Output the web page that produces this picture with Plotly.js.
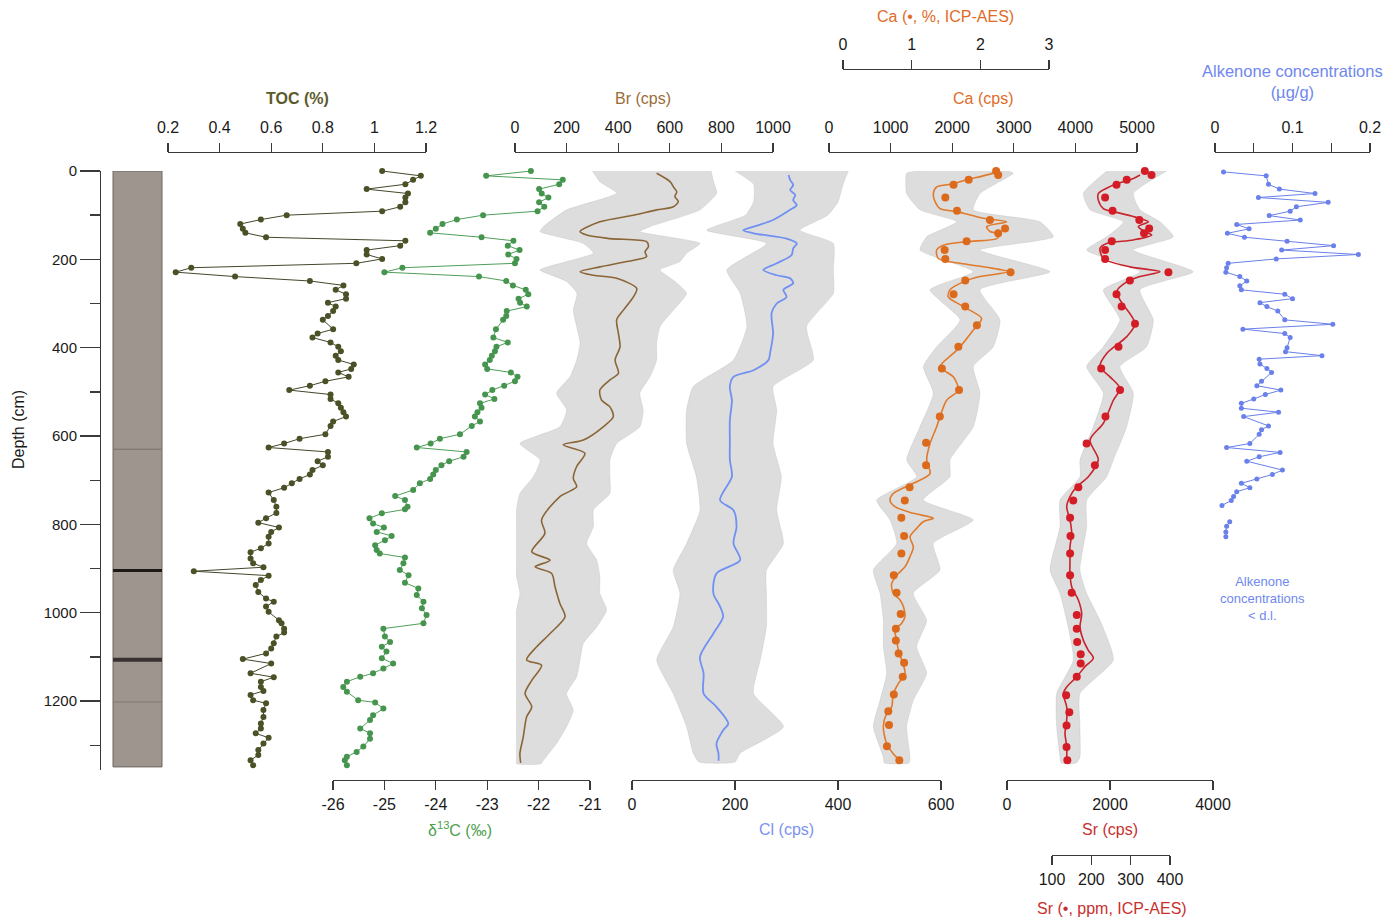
<!DOCTYPE html>
<html><head><meta charset="utf-8">
<script src="https://cdn.plot.ly/plotly-3.0.1.min.js"></script>
<style>html,body{margin:0;padding:0;background:#fff;}#chart{width:1399px;height:921px;}</style>
</head><body><div id="chart"></div>
<script>
// ---------------- DATA ----------------
const tocDepth = [0,11,20,30,41,51,60,71,81,91,
 100,110,120,131,140,150,158,169,179,189,
 199,209,219,229,239,249,259,269,279,289,
 298,307,317,328,337,358,368,377,388,398,
 408,418,428,438,448,456,466,476,486,496,
 506,516,526,536,546,556,567,577,596,606,
 617,626,636,647,657,666,677,687,697,707,
 717,728,745,760,774,786,796,807,817,828,
 843,854,863,877,888,897,906,916,926,937,
 953,968,975,986,998,1017,1024,1036,1045,1054,
 1069,1081,1092,1105,1115,1137,1146,1156,1168,1177,
 1186,1198,1205,1220,1236,1251,1262,1273,1283,1296,
 1311,1322,1334,1345];
const tocValue = [1.03,1.18,1.15,1.12,0.97,1.13,1.12,1.12,1.10,1.03,
 0.66,0.56,0.48,0.49,0.50,0.58,1.12,1.10,0.97,0.97,
 1.03,0.93,0.29,0.23,0.46,0.75,0.88,0.85,0.89,0.89,
 0.82,0.85,0.84,0.82,0.80,0.84,0.78,0.76,0.83,0.86,
 0.87,0.85,0.86,0.92,0.91,0.86,0.90,0.81,0.75,0.67,
 0.83,0.83,0.86,0.87,0.88,0.89,0.84,0.83,0.81,0.71,
 0.65,0.59,0.82,0.82,0.78,0.80,0.76,0.75,0.71,0.68,
 0.65,0.59,0.61,0.62,0.62,0.58,0.55,0.63,0.60,0.59,
 0.59,0.56,0.52,0.52,0.53,0.57,0.30,0.59,0.56,0.54,
 0.55,0.58,0.61,0.58,0.59,0.63,0.64,0.65,0.65,0.62,
 0.61,0.60,0.58,0.49,0.60,0.52,0.61,0.56,0.56,0.57,
 0.52,0.53,0.58,0.57,0.57,0.56,0.56,0.54,0.59,0.57,
 0.55,0.55,0.52,0.53];

const d13cDepth = [0,11,20,30,41,51,60,71,81,91,
 100,110,120,131,140,150,158,169,179,189,
 199,209,219,229,239,249,259,269,279,289,
 298,307,317,328,337,358,377,388,398,408,
 418,428,438,448,456,466,476,486,496,506,
 516,526,536,546,556,567,577,596,606,617,
 626,636,647,657,666,677,687,697,707,722,
 736,745,760,766,775,786,798,807,817,826,
 836,847,858,866,875,888,903,915,932,945,
 960,975,990,1005,1024,1036,1054,1066,1077,1088,
 1103,1115,1126,1137,1145,1156,1168,1179,1198,1203,
 1217,1232,1243,1262,1273,1285,1303,1315,1326,1334,
 1345];
const d13cValue = [-22.15,-23.02,-21.53,-21.60,-21.99,-21.94,-21.81,-21.99,-21.89,-22.02,
 -23.08,-23.59,-23.87,-24.00,-24.11,-23.11,-22.49,-22.60,-22.37,-22.59,
 -22.43,-22.46,-24.65,-25.00,-23.16,-22.63,-22.50,-22.25,-22.20,-22.39,
 -22.36,-22.23,-22.62,-22.63,-22.69,-22.83,-22.88,-22.60,-22.82,-22.85,
 -22.91,-22.95,-23.04,-23.00,-22.54,-22.41,-22.46,-22.67,-22.90,-23.04,
 -22.86,-23.14,-23.11,-23.19,-23.24,-23.14,-23.30,-23.53,-23.92,-24.10,
 -24.37,-23.40,-23.46,-23.74,-23.89,-24.00,-24.05,-24.11,-24.31,-24.44,
 -24.79,-24.60,-24.55,-24.60,-25.05,-25.29,-25.22,-25.01,-25.15,-24.86,
 -24.99,-25.18,-25.15,-25.09,-24.60,-24.63,-24.70,-24.53,-24.60,-24.34,
 -24.37,-24.24,-24.27,-24.18,-24.24,-25.02,-24.99,-24.89,-25.05,-24.96,
 -25.05,-24.83,-25.02,-25.22,-25.47,-25.73,-25.80,-25.73,-25.51,-25.18,
 -25.02,-25.22,-25.28,-25.47,-25.28,-25.28,-25.41,-25.54,-25.73,-25.77,
 -25.73];

// Br (cps): smoothed curve and raw-data envelope
const brDepth = [5,24,36,47,58,69,81,88,100,115,137,145,153,160,171,183,194,205,217,228,
 236,243,266,285,315,337,368,398,428,458,473,496,519,534,556,579,609,620,639,669,
 696,715,737,790,820,862,881,896,911,941,979,1009,1047,1077,1107,1119,1153,1183,1213,1236,
 1281,1319,1340];
const brValue = [549,601,614,627,620,633,614,549,459,329,252,278,368,510,517,504,510,433,329,252,
 304,394,472,459,420,394,401,407,388,401,368,329,336,368,381,342,265,187,271,239,
 226,239,174,103,116,65,136,78,142,155,174,194,136,84,45,103,65,39,65,45,
 32,19,22];
const brEnvDepth = [0,25,50,88,126,137,164,186,205,224,250,277,315,352,390,428,466,503,541,579,
 617,654,692,730,767,805,843,881,918,956,994,1032,1069,1107,1145,1183,1220,1258,1296,1334,1342];
const brEnvLow = [300,330,394,200,110,97,265,304,200,97,200,240,226,239,252,239,213,161,200,174,
 19,97,71,19,6,6,6,6,6,19,6,6,6,6,6,6,6,6,6,6,6];
const brEnvHigh = [760,770,782,717,523,484,717,665,640,562,620,665,614,562,549,549,523,484,497,484,
 394,368,368,368,304,304,278,317,329,329,355,317,265,252,239,200,226,200,161,110,100];

// Cl (cps)
const clDepth = [9,20,32,43,54,66,77,88,111,126,134,141,153,164,175,190,209,224,236,243,
 254,269,285,300,322,368,413,428,451,466,488,519,564,617,654,692,745,768,805,843,
 881,911,956,986,1009,1047,1100,1137,1183,1213,1251,1266,1296,1319,1335];
const clValue = [304,307,313,307,317,313,320,307,274,236,216,236,300,320,313,310,281,255,281,307,
 313,294,300,281,271,274,268,265,236,197,190,194,190,190,190,194,171,197,203,197,
 210,164,158,171,177,158,132,139,139,164,187,177,164,168,168];
const clEnvDepth = [0,30,70,100,134,164,224,277,352,428,488,541,617,692,768,843,904,956,1032,1107,1183,1258,1318,1338];
const clEnvLow = [200,236,236,220,145,261,184,210,223,197,119,106,106,125,132,106,80,93,80,48,80,106,119,130];
const clEnvHigh = [420,410,400,380,326,391,391,391,339,352,274,281,274,290,281,294,261,261,261,249,236,294,210,200];

// Ca (cps) and Ca (%, ICP-AES)
const caDepth = [2,11,20,29,36,51,69,85,92,107,115,126,137,143,153,160,168,179,198,209,
 218,228,239,251,269,285,307,334,360,398,413,443,466,496,519,556,579,617,654,685,
 707,730,745,760,775,786,794,809,828,851,873,896,915,934,956,971,986,1009,1024,1039,
 1062,1085,1107,1137,1160,1183,1213,1228,1258,1296,1319,1334];
const caValue = [2750,2505,2235,2018,1748,1694,1721,1802,2073,2505,2884,2560,2614,2776,2722,2235,1856,1748,1775,2127,
 2560,2911,2451,2181,1964,1937,2181,2478,2343,2127,2018,1802,2018,2100,1910,1802,1748,1640,1586,1640,
 1369,1044,990,1071,1369,1694,1531,1423,1315,1369,1315,1234,1099,1017,1044,1153,1207,1234,1180,1071,
 1099,1126,1180,1234,1126,1044,1017,936,882,936,1044,1153];
const caEnvDepth = [0,5,51,88,115,149,179,228,269,337,398,443,503,579,654,692,745,790,843,903,956,1017,1077,1137,1198,1258,1326,1340];
const caEnvLow = [1500,1261,1261,1477,2073,1586,1477,2343,1640,2127,1748,1532,1694,1477,1261,1423,774,990,1099,720,828,882,882,936,828,720,882,900];
const caEnvHigh = [2900,2992,2451,2343,3425,3642,2451,3588,2451,2776,2668,2343,2451,2343,1964,1964,1531,2343,1694,1802,1369,1586,1423,1586,1369,1261,1315,1300];
const caPctDepth = [0,9,20,31,60,90,111,130,141,159,179,199,229,248,279,307,349,398,447,496,
 556,615,666,716,746,785,826,866,915,955,1003,1036,1063,1092,1113,1145,1185,1223,1254,1302,1334];
const caPctValue = [2.23,2.26,1.83,1.61,1.49,1.66,2.14,2.36,2.26,1.80,1.48,1.49,2.44,1.78,1.61,1.78,1.95,1.68,1.44,1.69,
 1.41,1.21,1.21,0.97,0.90,0.85,0.89,0.85,0.74,0.78,0.84,0.77,0.77,0.81,0.89,0.87,0.74,0.66,0.67,0.64,0.82];

// Sr (cps) and Sr (ppm, ICP-AES)
const srDepth = [9,17,22,29,39,51,66,85,92,103,115,126,137,145,156,164,175,198,217,228,
 239,251,273,292,345,375,413,443,466,492,519,571,609,654,692,715,737,760,790,820,
 851,881,911,941,971,1002,1032,1062,1085,1103,1122,1145,1168,1183,1213,1243,1273,1303,1334];
const srValue = [2583,2453,2324,2129,1935,1773,1773,1871,2065,2453,2744,2550,2680,2809,2453,1935,1806,1871,2388,2971,
 2583,2324,2129,2194,2485,2324,1935,1806,2000,2194,2065,1871,1612,1773,1579,1353,1223,1159,1223,1256,
 1223,1223,1223,1256,1385,1450,1417,1482,1579,1676,1515,1353,1159,1094,1159,1159,1126,1159,1159];
const srEnvDepth = [0,51,88,115,149,179,228,269,337,398,443,503,579,654,692,745,805,903,956,1017,1107,1183,1258,1326,1340];
const srEnvLow = [1935,1482,1612,2259,1935,1547,2583,1871,2194,1871,1547,1871,1676,1417,1417,1029,1029,835,1029,1159,1288,964,964,1029,1050];
const srEnvHigh = [3100,2453,2583,2971,3230,2453,3618,2583,2841,2712,2194,2453,2324,2065,1935,1547,1547,1417,1547,1806,2065,1417,1417,1417,1350];
const srPpmDepth = [0,9,20,31,60,90,111,130,141,159,179,199,229,248,279,307,346,398,447,496,
 556,617,666,716,746,785,826,866,915,955,1005,1036,1066,1094,1115,1145,1187,1225,1255,1304,1334];
const srPpmValue = [336,353,290,264,235,254,322,347,334,252,235,235,396,298,264,277,311,269,225,273,
 236,188,209,167,154,146,147,146,146,150,163,163,164,173,173,163,136,144,137,137,139];

// Alkenone concentrations (µg/g); null = gap (below detection limit)
const alkDepth = [2,11,30,41,51,60,71,81,91,101,111,121,131,141,150,159,169,179,189,199,
 209,219,229,239,249,260,269,279,289,298,307,317,337,347,358,368,377,400,409,418,
 426,437,447,456,476,486,496,506,516,526,537,546,556,577,586,596,617,626,637,647,
 657,677,687,697,707,717,726,737,746,757,null,794,804,817,828];
const alkValue = [0.011,0.066,0.069,0.083,0.129,0.056,0.146,0.105,0.097,0.070,0.110,0.028,0.044,0.016,0.038,0.093,0.153,0.086,0.185,0.079,
 0.017,0.015,0.014,0.032,0.041,0.032,0.034,0.090,0.100,0.058,0.067,0.081,0.090,0.152,0.036,0.090,0.097,0.093,0.091,0.138,
 0.057,0.058,0.067,0.073,0.060,0.054,0.085,0.065,0.050,0.034,0.034,0.082,0.037,0.069,0.060,0.057,0.045,0.015,0.084,0.057,
 0.041,0.087,0.074,0.054,0.034,0.045,0.028,0.024,0.021,0.009,null,0.019,0.015,0.014,0.014];

// Core lithology (depths in cm)
const coreTop = 0, coreBottom = 1349;
const layerTop = [629, 901, 1102, 1201];
const layerBottom = [631, 908, 1111, 1203];
const layerColor = ['#7a716b', '#1d1917', '#3a3230', '#847b75'];

// Tick labels
const depthTicks = [0,200,400,600,800,1000,1200];
const tocTicks = [0.2,0.4,0.6,0.8,1,1.2];
const d13cTicks = [-26,-25,-24,-23,-22,-21];
const brTicks = [0,200,400,600,800,1000];
const clTicks = [0,200,400,600];
const caTicks = [0,1000,2000,3000,4000,5000];
const caPctTicks = [0,1,2,3];
const srTicks = [0,2000,4000];
const srPpmTicks = [100,200,300,400];
const alkTicks = [0,0.1,0.2];
const alkMinorTicks = [0.05,0.15];

// ---------------- LAYOUT ----------------
const W = 1399, H = 921;
const FONT = 'Liberation Sans, Arial, Helvetica, sans-serif';
const AX = '#3a3a3a';

function xAxis(p0, p1, v0, v1, side, py, vals, minorVals) {
  const a = {
    domain: [p0 / W, p1 / W], range: [v0, v1], anchor: 'free', position: 1 - py / H, side: side,
    showline: true, linecolor: AX, linewidth: 1.4, ticks: 'outside', ticklen: 9, tickwidth: 1.4, tickcolor: AX,
    tickmode: 'array', tickvals: vals, ticktext: vals.map(String),
    tickfont: { family: FONT, size: 16, color: '#1a1a1a' }, ticklabelstandoff: side === 'top' ? 4 : 0,
    showgrid: false, zeroline: false, fixedrange: true
  };
  if (minorVals) a.minor = { tickmode: 'array', tickvals: minorVals, ticklen: 9, tickwidth: 1.4, tickcolor: AX, ticks: 'outside', showgrid: false };
  return a;
}

function band(depth, lo, hi, xa) {
  return { type: 'scatter', mode: 'lines', xaxis: xa, yaxis: 'y',
    x: lo.concat(hi.slice().reverse()), y: depth.concat(depth.slice().reverse()),
    fill: 'toself', fillcolor: 'rgba(150,150,150,0.32)',
    line: { width: 0.6, color: 'rgba(160,160,160,0.35)', shape: 'spline', smoothing: 0.5 }, hoverinfo: 'skip' };
}
function smooth(depth, val, xa, color, w) {
  return { type: 'scatter', mode: 'lines', xaxis: xa, yaxis: 'y', x: val, y: depth,
    line: { color: color, width: w || 1.6, shape: 'spline', smoothing: 0.8 }, hoverinfo: 'skip' };
}
function dots(depth, val, xa, color, size, withLine, lineColor) {
  return { type: 'scatter', mode: withLine ? 'lines+markers' : 'markers', xaxis: xa, yaxis: 'y', x: val, y: depth,
    marker: { color: color, size: size, line: { width: 0 } }, cliponaxis: false,
    line: { color: lineColor || color, width: 1 }, connectgaps: false, hoverinfo: 'skip' };
}

const traces = [
  dots(tocDepth, tocValue, 'x', '#4a5126', 6, true, '#45472c'),
  dots(d13cDepth, d13cValue, 'x2', '#46954f', 6, true, '#4f9e59'),
  band(brEnvDepth, brEnvLow, brEnvHigh, 'x3'),
  band(clEnvDepth, clEnvLow, clEnvHigh, 'x4'),
  band(caEnvDepth, caEnvLow, caEnvHigh, 'x5'),
  band(srEnvDepth, srEnvLow, srEnvHigh, 'x7'),
  smooth(brDepth, brValue, 'x3', '#8a6536', 1.6),
  smooth(clDepth, clValue, 'x4', '#7090f2', 1.8),
  smooth(caDepth, caValue, 'x5', '#e07a2c', 1.6),
  dots(caPctDepth, caPctValue, 'x6', '#dc6a1c', 8, false),
  smooth(srDepth, srValue, 'x7', '#c8242c', 1.6),
  dots(srPpmDepth, srPpmValue, 'x8', '#d41c26', 8, false),
  dots(alkDepth, alkValue, 'x9', '#6a80ea', 5, true, '#6a80ea')
];

const shapes = [{ type: 'rect', xref: 'paper', yref: 'y', x0: 113 / W, x1: 162 / W, y0: coreTop, y1: coreBottom,
  fillcolor: '#9d958e', line: { color: '#6e6660', width: 1 }, layer: 'below' }];
layerTop.forEach((t, i) => shapes.push({ type: 'rect', xref: 'paper', yref: 'y', x0: 113 / W, x1: 162 / W,
  y0: t, y1: layerBottom[i], fillcolor: layerColor[i], line: { width: 0 }, layer: 'below' }));

function ann(text, px, py, color, size, extra) {
  return Object.assign({ text: text, xref: 'paper', yref: 'paper', x: px / W, y: 1 - py / H,
    xanchor: 'center', yanchor: 'middle', showarrow: false,
    font: { family: FONT, size: size || 16, color: color } }, extra || {});
}

const layout = {
  width: W, height: H, margin: { l: 0, r: 0, t: 0, b: 0, pad: 0 },
  paper_bgcolor: '#ffffff', plot_bgcolor: 'rgba(0,0,0,0)', showlegend: false, hovermode: false,
  yaxis: { domain: [1 - 770 / H, 1 - 171 / H], range: [1356, 0], anchor: 'free', position: 100 / W, side: 'left',
    showline: true, linecolor: AX, linewidth: 1.4, ticks: 'outside', ticklen: 20, tickwidth: 1.4, tickcolor: AX,
    tickmode: 'array', tickvals: depthTicks, ticktext: depthTicks.map(String),
    minor: { dtick: 100, tick0: 0, ticklen: 10, tickwidth: 1.4, tickcolor: AX, ticks: 'outside', showgrid: false },
    tickfont: { family: FONT, size: 15, color: '#1a1a1a' }, showgrid: false, zeroline: false, fixedrange: true },
  xaxis: xAxis(168, 426, 0.2, 1.2, 'top', 152, tocTicks),
  xaxis2: xAxis(333, 590, -26, -21, 'bottom', 780, d13cTicks),
  xaxis3: xAxis(515, 773, 0, 1000, 'top', 152, brTicks),
  xaxis4: xAxis(632, 941, 0, 600, 'bottom', 780, clTicks),
  xaxis5: xAxis(829, 1137, 0, 5000, 'top', 152, caTicks),
  xaxis6: xAxis(843, 1049, 0, 3, 'top', 69, caPctTicks),
  xaxis7: xAxis(1007, 1213, 0, 4000, 'bottom', 780, srTicks),
  xaxis8: xAxis(1052, 1170, 100, 400, 'bottom', 855, srPpmTicks),
  xaxis9: xAxis(1215, 1370, 0, 0.2, 'top', 152, alkTicks, alkMinorTicks),
  shapes: shapes,
  annotations: [
    ann('<b>TOC (%)</b>', 297, 98, '#5b5a2c', 16),
    ann('Br (cps)', 643, 98, '#9c6c38', 16),
    ann('Ca (cps)', 983, 98, '#e06c28', 16),
    ann('Ca (•, %, ICP-AES)', 945, 16, '#e06c28', 16),
    ann('Alkenone concentrations<br>(µg/g)', 1292, 81, '#6f87ee', 16.5),
    ann('δ<sup>13</sup>C (‰)', 460, 829, '#4ea04e', 16),
    ann('Cl (cps)', 786, 829, '#7b93ee', 16),
    ann('Sr (cps)', 1110, 829, '#c8302e', 16),
    ann('Sr (•, ppm, ICP-AES)', 1112, 908, '#c8302e', 16),
    ann('Depth (cm)', 18, 430, '#1a1a1a', 16, { textangle: -90 }),
    ann('Alkenone<br>concentrations<br>&lt; d.l.', 1262, 598, '#6f87ee', 13)
  ]
};

Plotly.newPlot('chart', traces, layout, { staticPlot: true, displayModeBar: false });
</script>
</body></html>
